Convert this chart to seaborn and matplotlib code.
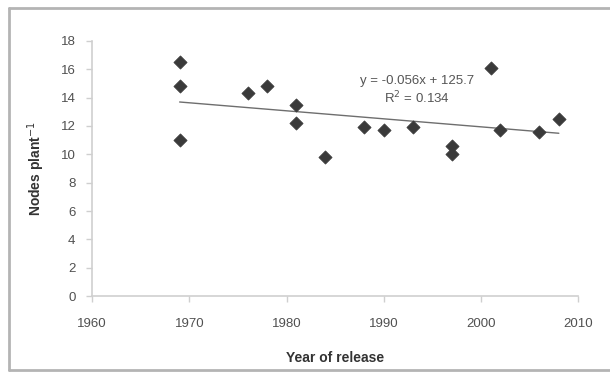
import numpy as np
import pandas as pd
import matplotlib
matplotlib.use("Agg")
import matplotlib.pyplot as plt
from matplotlib.lines import Line2D
import seaborn as sns

# ── Data ──────────────────────────────────────────────
years = [1969, 1969, 1969, 1976, 1978, 1981, 1981, 1984, 1988, 1990,
         1993, 1997, 1997, 2001, 2002, 2006, 2008]
nodes = [16.5, 14.8, 11.0, 14.3, 14.8, 13.5, 12.2, 9.8, 11.9, 11.7,
         11.9, 10.6, 10.0, 16.1, 11.7, 11.6, 12.5]
x_ticks = [1960, 1970, 1980, 1990, 2000, 2010]
y_ticks = [0, 2, 4, 6, 8, 10, 12, 14, 16, 18]
eq_text = "y = -0.056x + 125.7\nR$^2$ = 0.134"

df = pd.DataFrame({"year": years, "nodes": nodes})

# ── Style ─────────────────────────────────────────────
sns.set_style("white")
plt.rcParams["font.family"] = ["Liberation Sans", "DejaVu Sans"]

fig = plt.figure(figsize=(6.1, 3.72), dpi=100)
# chart-area frame (top, left, bottom; right side runs off the image)
frame_kw = dict(transform=fig.transFigure, color="#b4b4b4", linewidth=2)
fig.lines.append(Line2D([0.014, 1.0], [0.979, 0.979], **frame_kw))
fig.lines.append(Line2D([0.014, 0.014], [0.005, 0.979], **frame_kw))
fig.lines.append(Line2D([0.014, 1.0], [0.006, 0.006], **frame_kw))

ax = fig.add_axes([0.151, 0.204, 0.797, 0.686])

sns.regplot(data=df, x="year", y="nodes", scatter=False, ci=None, ax=ax,
            line_kws={"color": "#6e6e6e", "linewidth": 1.0}, truncate=True)
sns.scatterplot(data=df, x="year", y="nodes", marker="D", s=45, color="#3a3a3a",
                edgecolor="#3a3a3a", ax=ax, zorder=3)

ax.text(1993.4, 14.5, eq_text, ha="center", va="center", fontsize=9.5,
        color="#555555", linespacing=1.2)

ax.set_xlim(1960, 2010)
ax.set_ylim(0, 18)
ax.set_xticks(x_ticks)
ax.set_yticks(y_ticks)
ax.tick_params(axis="both", direction="out", length=4, width=1, color="#cfcfcf",
               labelsize=9.5, labelcolor="#505050", left=True, bottom=True)
ax.tick_params(axis="x", pad=12)
ax.tick_params(axis="y", pad=8)
for s in ["top", "right"]:
    ax.spines[s].set_visible(False)
for s in ["left", "bottom"]:
    ax.spines[s].set_color("#cfcfcf")
    ax.spines[s].set_linewidth(1.2)

ax.set_xlabel("Year of release", fontsize=10, fontweight="bold", color="#333333", labelpad=15)
ax.set_ylabel("Nodes plant$^{-1}$", fontsize=10, fontweight="bold", color="#333333", labelpad=10)

fig.savefig("out.png", dpi=100)
